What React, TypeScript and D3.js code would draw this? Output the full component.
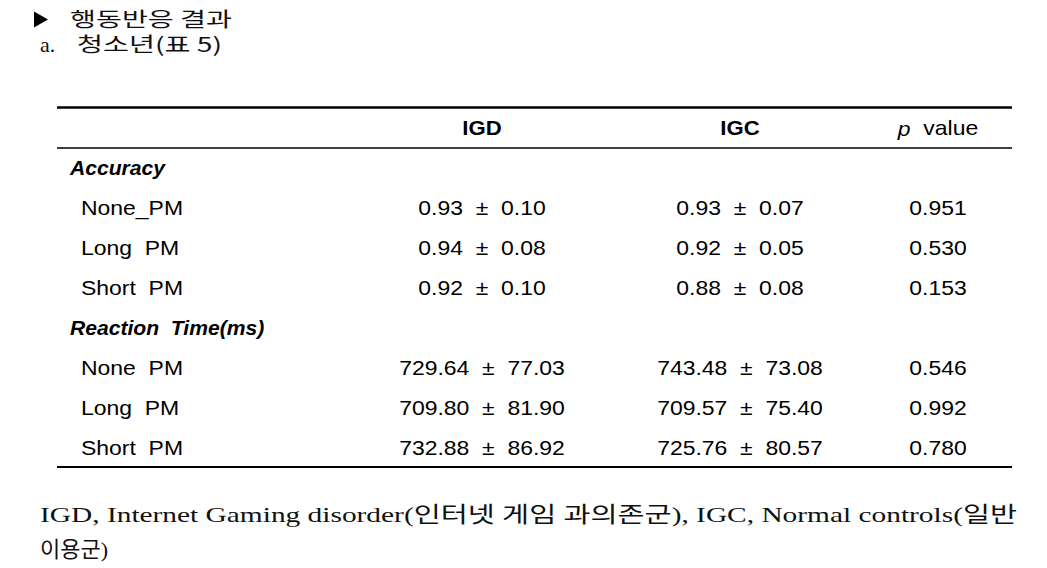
import React from "react";
import * as d3 from "d3";

const title = "행동반응 결과";
const subtitleA = "a.";
const subtitleB = "청소년(표 5)";
const columns = ["IGD", "IGC"];
const sections = ["Accuracy", "Reaction  Time(ms)"];
const accLabels = ["None_PM", "Long  PM", "Short  PM"];
const accIGD = ["0.93  ±  0.10", "0.94  ±  0.08", "0.92  ±  0.10"];
const accIGC = ["0.93  ±  0.07", "0.92  ±  0.05", "0.88  ±  0.08"];
const accP = ["0.951", "0.530", "0.153"];
const rtLabels = ["None  PM", "Long  PM", "Short  PM"];
const rtIGD = ["729.64  ±  77.03", "709.80  ±  81.90", "732.88  ±  86.92"];
const rtIGC = ["743.48  ±  73.08", "709.57  ±  75.40", "725.76  ±  80.57"];
const rtP = ["0.546", "0.992", "0.780"];
const footLine1 = "IGD, Internet Gaming disorder(인터넷 게임 과의존군), IGC, Normal controls(일반";
const footLine2 = "이용군)";

type Row = { kind: "section" | "data"; label: string; igd?: string; igc?: string; p?: string };

const rows: Row[] = [
  { kind: "section", label: sections[0] },
  ...accLabels.map((l, i) => ({ kind: "data" as const, label: l, igd: accIGD[i], igc: accIGC[i], p: accP[i] })),
  { kind: "section", label: sections[1] },
  ...rtLabels.map((l, i) => ({ kind: "data" as const, label: l, igd: rtIGD[i], igc: rtIGC[i], p: rtP[i] })),
];

function T(props: { x: number; y: number; sx?: number; anchor?: string; bold?: boolean; italic?: boolean; children: React.ReactNode }) {
  const { x, y, sx = 1.12, anchor, bold, italic, children } = props;
  return (
    <g transform={`translate(${x},${y}) scale(${sx},1)`}>
      <text
        x={0}
        y={0}
        textAnchor={anchor || "start"}
        fontWeight={bold ? "bold" : "normal"}
        fontStyle={italic ? "italic" : "normal"}
        dominantBaseline="central"
        xmlSpace="preserve"
      >
        {children}
      </text>
    </g>
  );
}

export default function App() {
  const W = 1047, H = 568;
  const sans = "'Liberation Sans', Arial, sans-serif";
  const serif = "'Liberation Serif', 'Noto Sans CJK KR', serif";
  const cjk = "'Noto Sans CJK KR', serif";
  const y = d3.scaleLinear().domain([0, rows.length - 1]).range([168, 448]);
  const x = d3.scaleOrdinal<string, number>().domain(["IGD", "IGC", "p"]).range([482, 740, 938]);
  const left = 57, right = 1012;
  return (
    <svg width={W} height={H} style={{ position: "absolute", left: 0, top: 0, background: "#fff" }}>
      <g fill="#111">
        <path d="M34,11.5 L48,19.5 L34,27.5 Z" fill="#000" />
        <text x={70} y={27} fontSize={20} fontFamily={cjk} textLength={162} lengthAdjust="spacingAndGlyphs" xmlSpace="preserve">{title}</text>
        <text x={40} y={52} fontSize={22} fontFamily="'Liberation Serif', serif">{subtitleA}</text>
        <text x={77} y={52} fontSize={20} fontFamily={cjk} textLength={145} lengthAdjust="spacingAndGlyphs" xmlSpace="preserve">{subtitleB}</text>
      </g>
      <line x1={left} x2={right} y1={107.5} y2={107.5} stroke="#000" strokeWidth={2.5} />
      <line x1={left} x2={right} y1={148} y2={148} stroke="#000" strokeWidth={1.3} />
      <line x1={left} x2={right} y1={467} y2={467} stroke="#000" strokeWidth={2} />
      <g fontFamily={sans} fontSize={20.5} fill="#000">
        {columns.map((c) => (
          <T key={c} x={x(c)} y={128} sx={1.08} anchor="middle" bold>{c}</T>
        ))}
        <T x={x("p")} y={128} anchor="middle">
          <tspan fontStyle="italic">p</tspan>{"  value"}
        </T>
        {rows.map((r, i) =>
          r.kind === "section" ? (
            <T key={i} x={70} y={y(i)} sx={1.03} bold italic>{r.label}</T>
          ) : (
            <g key={i}>
              <T x={81} y={y(i)}>{r.label}</T>
              <T x={x("IGD")} y={y(i)} anchor="middle">{r.igd}</T>
              <T x={x("IGC")} y={y(i)} anchor="middle">{r.igc}</T>
              <T x={x("p")} y={y(i)} anchor="middle">{r.p}</T>
            </g>
          )
        )}
      </g>
      <g fontFamily={serif} fontSize={22} fill="#111">
        <text x={40} y={522} textLength={977} lengthAdjust="spacingAndGlyphs">{footLine1}</text>
        <text x={40} y={557}>{footLine2}</text>
      </g>
    </svg>
  );
}
